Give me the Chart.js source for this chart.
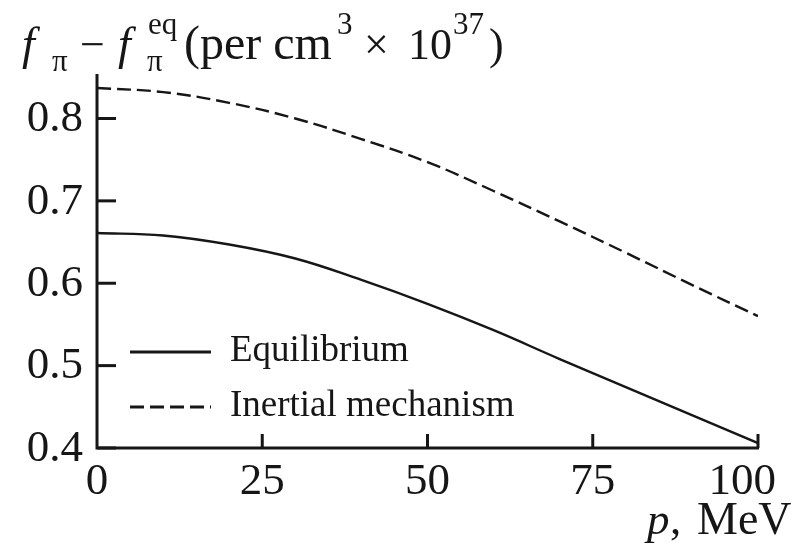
<!DOCTYPE html>
<html>
<head>
<meta charset="utf-8">
<script src="https://cdn.jsdelivr.net/npm/chart.js@4"></script>
<style>
    body { margin: 0; background: #fff; }
    canvas { display: block; }
</style>
</head>
<body>
<canvas id="pionChart" width="812" height="547"></canvas>
<script>
// momentum in MeV and the two curves
const pValues = [0, 10, 20, 30, 40, 50, 60, 70, 80, 90, 100];
const equilibrium = [0.661, 0.658, 0.647, 0.630, 0.604, 0.575, 0.543, 0.508, 0.474, 0.440, 0.406];
const inertial = [0.837, 0.832, 0.819, 0.800, 0.775, 0.747, 0.712, 0.675, 0.637, 0.598, 0.560];
const seriesNames = ['Equilibrium', 'Inertial mechanism'];

const xTicks = [0, 25, 50, 75, 100];
const yTicks = [0.4, 0.5, 0.6, 0.7, 0.8];
const xTickLabels = ['0', '25', '50', '75', '100'];
const yTickLabels = ['0.4', '0.5', '0.6', '0.7', '0.8'];

const ink = '#161616';
const serif = '"Liberation Serif", "DejaVu Serif", serif';

function toPoints(values) {
    return pValues.map((p, i) => ({ x: p, y: values[i] }));
}

// axes, inward ticks, labels, legend and titles
const figurePlugin = {
    id: 'figure',
    afterDraw(chart) {
        const ctx = chart.ctx;
        const area = chart.chartArea;
        const xs = chart.scales.x;
        const ys = chart.scales.y;

        ctx.save();
        ctx.strokeStyle = ink;
        ctx.fillStyle = ink;
        ctx.lineCap = 'butt';

        // axis lines
        ctx.lineWidth = 3;
        ctx.beginPath();
        ctx.moveTo(area.left, area.top);
        ctx.lineTo(area.left, area.bottom);
        ctx.lineTo(area.right + 1, area.bottom);
        ctx.stroke();

        // ticks point into the plot
        for (const v of yTicks) {
            const y = ys.getPixelForValue(v);
            ctx.beginPath();
            ctx.moveTo(area.left, y);
            ctx.lineTo(area.left + 19, y);
            ctx.stroke();
        }
        for (const v of xTicks) {
            if (v === 0) continue;
            const x = xs.getPixelForValue(v);
            ctx.beginPath();
            ctx.moveTo(x, area.bottom);
            ctx.lineTo(x, area.bottom - 14);
            ctx.stroke();
        }

        // tick labels
        ctx.font = '45px ' + serif;
        ctx.textAlign = 'right';
        ctx.textBaseline = 'middle';
        yTicks.forEach((v, i) => {
            ctx.fillText(yTickLabels[i], area.left - 14, ys.getPixelForValue(v) + 1);
        });
        ctx.textBaseline = 'alphabetic';
        xTicks.forEach((v, i) => {
            let x = xs.getPixelForValue(v);
            ctx.textAlign = 'center';
            if (i === xTicks.length - 1) {
                ctx.textAlign = 'right';
                x = x + 18;
            }
            ctx.fillText(xTickLabels[i], x, 494);
        });

        // legend
        ctx.font = '37px ' + serif;
        ctx.textAlign = 'left';
        chart.data.datasets.forEach((ds, i) => {
            const y = 352 + i * 55;
            ctx.lineWidth = 3;
            ctx.setLineDash(ds.borderDash || []);
            ctx.beginPath();
            ctx.moveTo(130, y);
            ctx.lineTo(211, y);
            ctx.stroke();
            ctx.setLineDash([]);
            ctx.fillText(ds.label, 230, y + 9);
        });

        // x axis title
        ctx.font = 'italic 45px ' + serif;
        ctx.fillText('p', 647, 534);
        ctx.font = '45px ' + serif;
        ctx.fillText(',', 670, 534);
        ctx.font = '46px ' + serif;
        ctx.fillText('MeV', 697, 534);

        // y axis title
        const big = '44px ' + serif;
        const small = '31px ' + serif;
        ctx.font = 'italic 46px ' + serif;
        ctx.fillText('f', 22, 59);
        ctx.fillText('f', 118, 59);
        ctx.font = small;
        ctx.fillText('π', 52, 71);
        ctx.fillText('π', 147, 71);
        ctx.fillText('eq', 148, 34);
        ctx.fillText('3', 337, 34);
        ctx.fillText('37', 453, 34);
        ctx.font = big;
        ctx.fillText('\u2212', 80, 59);
        ctx.fillText('\u00d7', 364, 59);
        ctx.fillText('10', 408, 59);
        ctx.fillText(')', 489, 59);
        ctx.font = '48px ' + serif;
        ctx.fillText('(per cm', 184, 59);

        ctx.restore();
    }
};

new Chart(document.getElementById('pionChart'), {
    type: 'line',
    data: {
        datasets: [
            {
                label: seriesNames[0],
                data: toPoints(equilibrium),
                borderColor: ink,
                borderWidth: 2.4,
                pointRadius: 0,
                tension: 0.4,
                fill: false
            },
            {
                label: seriesNames[1],
                data: toPoints(inertial),
                borderColor: ink,
                borderWidth: 2.4,
                borderDash: [14, 6],
                pointRadius: 0,
                tension: 0.4,
                fill: false
            }
        ]
    },
    options: {
        responsive: false,
        animation: false,
        layout: {
            padding: { left: 97, right: 54, top: 74, bottom: 99 }
        },
        scales: {
            x: { type: 'linear', min: 0, max: 100, display: false },
            y: { type: 'linear', min: 0.4, max: 0.854, display: false }
        },
        plugins: {
            legend: { display: false },
            tooltip: { enabled: false }
        }
    },
    plugins: [figurePlugin]
});
</script>
</body>
</html>
